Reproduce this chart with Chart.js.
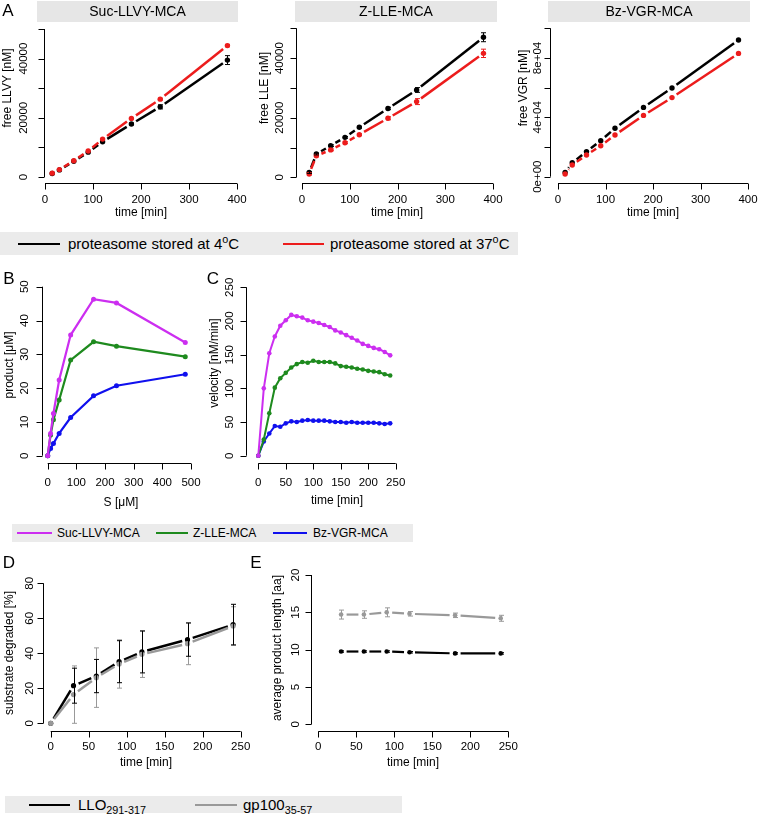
<!DOCTYPE html>
<html>
<head>
<meta charset="utf-8">
<script src="https://cdn.jsdelivr.net/npm/chart.js@4.4.1/dist/chart.umd.min.js"></script>
<style>
  body { margin: 0; background: #fff; font-family: "Liberation Sans", Arial, sans-serif; }
  #fig { position: relative; width: 762px; height: 815px; overflow: hidden; background: #fff; }
  #fig canvas { position: absolute; left: 0; top: 0; }
  .key { position: absolute; background: #ebebeb; color: #000; }
  .key span { position: absolute; top: 0; white-space: nowrap; }
  .key i { position: absolute; height: 2px; }
  .key sup, .key sub { font-size: 0.72em; line-height: 0; }
</style>
</head>
<body>
<div id="fig">
  <canvas id="a1" width="762" height="815"></canvas>
  <canvas id="a2" width="762" height="815"></canvas>
  <canvas id="a3" width="762" height="815"></canvas>
  <canvas id="b" width="762" height="815"></canvas>
  <canvas id="c" width="762" height="815"></canvas>
  <canvas id="d" width="762" height="815"></canvas>
  <canvas id="e" width="762" height="815"></canvas>
</div>
<script>
// ---- data: panel A (free fluorophore over time, two storage temperatures)
const timeA = [15, 30, 60, 90, 120, 180, 240, 380];
const llvy4 = [1200, 2400, 5300, 8400, 11900, 17900, 23700, 39500];
const llvy37 = [1300, 2500, 5500, 8800, 12800, 19800, 26300, 44400];
const llvy4Err = [0, 0, 0, 0, 0, 300, 700, 1500];
const llvy37Err = [0, 0, 0, 0, 0, 0, 300, 400];
const lle4 = [1600, 7800, 10600, 13400, 16800, 23100, 29300, 47000];
const lle37 = [1100, 7200, 9200, 11600, 14300, 19800, 25400, 41600];
const lle4Err = [300, 300, 300, 300, 300, 400, 800, 1500];
const lle37Err = [300, 300, 300, 300, 300, 500, 1000, 1400];
const vgr4 = [2900, 9400, 16900, 24300, 32600, 46700, 59800, 92100];
const vgr37 = [1800, 7900, 14600, 20900, 28100, 41300, 53300, 83100];
const xTicksA = [0, 100, 200, 300, 400];
const yTicksA = [0, 10000, 20000, 30000, 40000, 50000];
const yLabelsA = ['0', '', '20000', '', '40000', ''];
const yTicksVGR = [0, 20000, 40000, 60000, 80000, 100000];
const yLabelsVGR = ['0e+00', '', '4e+04', '', '8e+04', ''];
const substrates = ['Suc-LLVY-MCA', 'Z-LLE-MCA', 'Bz-VGR-MCA'];
const storage = ['proteasome stored at 4<sup>o</sup>C', 'proteasome stored at 37<sup>o</sup>C'];

// ---- data: panel B (product vs substrate conc.)
const substrateConc = [0, 10, 20, 40, 80, 160, 240, 480];
const prodLLVY = [0, 6.6, 12.5, 22.4, 35.7, 46.3, 45.2, 33.5];
const prodLLE = [0, 6.1, 10.6, 16.5, 28.3, 33.7, 32.4, 29.3];
const prodVGR = [0, 2.1, 3.6, 6.6, 11.3, 17.7, 20.7, 24.1];
const xTicksB = [0, 100, 200, 300, 400, 500];
const yTicksB = [0, 10, 20, 30, 40, 50];

// ---- data: panel C (velocity over time)
const timeC = [0, 10, 20, 30, 40, 50, 60, 70, 80, 90, 100, 110, 120, 130, 140, 150, 160, 170, 180, 190, 200, 210, 220, 230, 240];
const velLLVY = [0, 100, 152, 177, 193, 201, 209, 207, 205, 201, 199, 197, 194, 191, 186, 183, 179, 175, 171, 166, 163, 160, 158, 154, 149];
const velLLE = [0, 24, 63, 101, 115, 123, 131, 136, 139, 138, 141, 139, 139, 139, 137, 133, 132, 131, 129, 128, 126, 125, 124, 121, 119];
const velVGR = [0, 21, 33, 44, 43, 48, 51, 50, 52, 53, 52, 52, 52, 51, 50, 50, 49, 50, 49, 49, 49, 49, 48, 47, 48];
const xTicksC = [0, 50, 100, 150, 200, 250];
const yTicksC = [0, 50, 100, 150, 200, 250];

// ---- data: panels D and E (LLO vs gp100)
const timeD = [0, 30, 60, 90, 120, 180, 240];
const degLLO = [0, 21.5, 27, 35.2, 40.8, 47.8, 56.4];
const degLLOErr = [0, 10, 9.5, 12, 12, 9.5, 11.6];
const degGP = [0, 16.4, 26.1, 33.9, 39.4, 45.5, 55.6];
const degGPErr = [0, 16.4, 17, 13.8, 13.2, 12, 11];
const timeE = [30, 60, 90, 120, 180, 240];
const lenLLO = [9.75, 9.75, 9.75, 9.65, 9.5, 9.5];
const lenLLOErr = [0.1, 0.1, 0.1, 0.1, 0.1, 0.1];
const lenGP = [14.7, 14.7, 15.0, 14.8, 14.6, 14.2];
const lenGPErr = [0.6, 0.5, 0.6, 0.3, 0.3, 0.4];
const xTicksD = [0, 50, 100, 150, 200, 250];
const yTicksD = [0, 20, 40, 60, 80];
const yTicksE = [0, 5, 10, 15, 20];
const peptides = ['LLO<sub>291-317</sub>', 'gp100<sub>35-57</sub>'];

const W = 762, H = 815;
const FONT = '"Liberation Sans", Arial, sans-serif';
const BLACK = '#000000', RED = '#ec1c1c', GREY = '#999999';
const MAGENTA = '#cc2ef0', GREEN = '#1e8a1e', BLUE = '#1010ee';

// R-style axes: detached lines spanning first..last tick, rotated y labels
function rAxes(cfg) {
  return {
    id: 'rAxes',
    afterDraw(chart) {
      const ctx = chart.ctx, xs = chart.scales.x, ys = chart.scales.y, a = chart.chartArea;
      const tl = 6;
      ctx.save();
      ctx.strokeStyle = '#000';
      ctx.fillStyle = '#000';
      ctx.lineWidth = 1;

      // strip header
      if (cfg.strip) {
        const s = cfg.strip;
        ctx.fillStyle = '#e6e6e6';
        ctx.fillRect(s.x0, s.y0, s.x1 - s.x0, s.y1 - s.y0);
        ctx.fillStyle = '#000';
        ctx.font = '14px ' + FONT;
        ctx.textAlign = 'center';
        ctx.textBaseline = 'middle';
        ctx.fillText(s.text, (s.x0 + s.x1) / 2, (s.y0 + s.y1) / 2 + 1);
      }

      // x axis
      const yb = Math.round(a.bottom) + 0.5;
      ctx.beginPath();
      ctx.moveTo(xs.getPixelForValue(cfg.xTicks[0]), yb);
      ctx.lineTo(xs.getPixelForValue(cfg.xTicks[cfg.xTicks.length - 1]), yb);
      cfg.xTicks.forEach(v => {
        const px = Math.round(xs.getPixelForValue(v)) + 0.5;
        ctx.moveTo(px, yb);
        ctx.lineTo(px, yb + tl);
      });
      // y axis
      const xl = Math.round(a.left) + 0.5;
      ctx.moveTo(xl, ys.getPixelForValue(cfg.yTicks[0]));
      ctx.lineTo(xl, ys.getPixelForValue(cfg.yTicks[cfg.yTicks.length - 1]));
      cfg.yTicks.forEach(v => {
        const py = Math.round(ys.getPixelForValue(v)) + 0.5;
        ctx.moveTo(xl, py);
        ctx.lineTo(xl - tl, py);
      });
      ctx.stroke();

      ctx.font = '11.5px ' + FONT;
      ctx.textAlign = 'center';
      ctx.textBaseline = 'middle';
      const xLabels = cfg.xLabels || cfg.xTicks.map(String);
      cfg.xTicks.forEach((v, i) => ctx.fillText(xLabels[i], xs.getPixelForValue(v), cfg.xLabelY));
      const yLabels = cfg.yLabels || cfg.yTicks.map(String);
      cfg.yTicks.forEach((v, i) => {
        if (!yLabels[i]) return;
        ctx.save();
        ctx.translate(cfg.yLabelX, ys.getPixelForValue(v));
        ctx.rotate(-Math.PI / 2);
        ctx.fillText(yLabels[i], 0, 0);
        ctx.restore();
      });

      // axis titles
      ctx.font = '12px ' + FONT;
      ctx.fillText(cfg.xTitle[0], cfg.xTitle[1], cfg.xTitle[2]);
      ctx.save();
      ctx.translate(cfg.yTitle[1], cfg.yTitle[2]);
      ctx.rotate(-Math.PI / 2);
      ctx.fillText(cfg.yTitle[0], 0, 0);
      ctx.restore();

      // panel letter
      if (cfg.letter) {
        ctx.font = '17px ' + FONT;
        ctx.fillText(cfg.letter[0], cfg.letter[1], cfg.letter[2]);
      }
      ctx.restore();
    }
  };
}

// vertical error bars with small caps
const errBars = {
  id: 'errBars',
  afterDatasetsDraw(chart) {
    const ctx = chart.ctx, xs = chart.scales.x, ys = chart.scales.y;
    chart.data.datasets.forEach(ds => {
      if (!ds.errors) return;
      ctx.save();
      ctx.strokeStyle = ds.borderColor;
      ctx.lineWidth = 1;
      ds.data.forEach((p, j) => {
        const e = ds.errors[j];
        if (!e) return;
        const px = Math.round(xs.getPixelForValue(p.x)) + 0.5;
        const top = ys.getPixelForValue(p.y + e), bot = ys.getPixelForValue(p.y - e);
        ctx.beginPath();
        ctx.moveTo(px, top); ctx.lineTo(px, bot);
        ctx.moveTo(px - 2.5, top); ctx.lineTo(px + 2.5, top);
        ctx.moveTo(px - 2.5, bot); ctx.lineTo(px + 2.5, bot);
        ctx.stroke();
      });
      ctx.restore();
    });
  }
};

// R type="b": each segment stops short of the points at both ends
function gapped(g) {
  const dashLen = c => Math.max(Math.hypot(c.p1.x - c.p0.x, c.p1.y - c.p0.y) - 2 * g, 0) + c.p0DataIndex * 1e-4;
  return {
    borderDash: c => [dashLen(c), 1e5],
    borderDashOffset: c => dashLen(c) + 1e5 - g
  };
}

function series(xv, yv, color, extra) {
  return Object.assign({
    data: xv.map((x, i) => ({ x: x, y: yv[i] })),
    borderColor: color,
    backgroundColor: color,
    pointBackgroundColor: color,
    pointBorderWidth: 0,
    pointRadius: 2.5,
    borderWidth: 2,
    tension: 0,
    clip: false
  }, extra || {});
}

// plot region + scale limits from pixel anchors of the first/last tick
function frame(g) {
  const bx = (g.xp[1] - g.xp[0]) / (g.xv[1] - g.xv[0]);
  const by = (g.yp[1] - g.yp[0]) / (g.yv[1] - g.yv[0]);
  return {
    x: { min: g.xv[0] + (g.left - g.xp[0]) / bx, max: g.xv[0] + (g.right - g.xp[0]) / bx },
    y: { min: g.yv[0] + (g.bottom - g.yp[0]) / by, max: g.yv[0] + (g.top - g.yp[0]) / by },
    padding: { left: g.left, right: W - g.right, top: g.top, bottom: H - g.bottom }
  };
}

function makePanel(id, g, datasets, ax) {
  const f = frame(g);
  return new Chart(document.getElementById(id), {
    type: 'line',
    data: { datasets: datasets },
    options: {
      responsive: false,
      animation: false,
      events: [],
      layout: { padding: f.padding },
      scales: {
        x: { type: 'linear', display: false, bounds: 'data', min: f.x.min, max: f.x.max },
        y: { type: 'linear', display: false, bounds: 'data', min: f.y.min, max: f.y.max }
      },
      plugins: { legend: { display: false }, tooltip: { enabled: false } }
    },
    plugins: [rAxes(ax), errBars]
  });
}

function legend(box, names, colors, items) {
  const el = document.createElement('div');
  el.className = 'key';
  Object.assign(el.style, {
    left: box.left + 'px', top: box.top + 'px', width: box.width + 'px', height: box.height + 'px',
    fontSize: box.font + 'px', lineHeight: box.height + 'px'
  });
  names.forEach((n, i) => {
    const it = items[i];
    const ln = document.createElement('i');
    Object.assign(ln.style, {
      left: (it[0] - box.left) + 'px', width: (it[1] - it[0]) + 'px',
      top: (box.height / 2 - 1) + 'px', background: colors[i]
    });
    const tx = document.createElement('span');
    tx.innerHTML = n;
    tx.style.left = (it[2] - box.left) + 'px';
    el.appendChild(ln);
    el.appendChild(tx);
  });
  document.getElementById('fig').insertBefore(el, document.getElementById('a1'));
}

// ---- panel A
const gapA = { segment: gapped(5.5), borderWidth: 2.5, pointRadius: 2.7 };
const geoA = [
  { left: 44, right: 246, top: 24, bottom: 183, xv: [0, 400], xp: [45, 237], yv: [0, 50000], yp: [177, 29] },
  { left: 296, right: 500, top: 24, bottom: 183, xv: [0, 400], xp: [302, 493], yv: [0, 50000], yp: [177.3, 28.3] },
  { left: 550, right: 756, top: 24, bottom: 183, xv: [0, 400], xp: [558, 748], yv: [0, 100000], yp: [176.7, 28.3] }
];
makePanel('a1', geoA[0], [
  series(timeA, llvy37, RED, Object.assign({ errors: llvy37Err }, gapA)),
  series(timeA, llvy4, BLACK, Object.assign({ errors: llvy4Err }, gapA))
], {
  xTicks: xTicksA, yTicks: yTicksA, yLabels: yLabelsA, xLabelY: 200, yLabelX: 24,
  xTitle: ['time [min]', 141, 213], yTitle: ['free LLVY [nM]', 8, 88],
  strip: { text: substrates[0], x0: 37, x1: 238, y0: 1, y1: 22 }, letter: ['A', 8, 11]
});
makePanel('a2', geoA[1], [
  series(timeA, lle37, RED, Object.assign({ errors: lle37Err }, gapA)),
  series(timeA, lle4, BLACK, Object.assign({ errors: lle4Err }, gapA))
], {
  xTicks: xTicksA, yTicks: yTicksA, yLabels: yLabelsA, xLabelY: 200, yLabelX: 280,
  xTitle: ['time [min]', 397, 213], yTitle: ['free LLE [nM]', 265, 88],
  strip: { text: substrates[1], x0: 295, x1: 497, y0: 1, y1: 22 }
});
makePanel('a3', geoA[2], [
  series(timeA, vgr37, RED, gapA),
  series(timeA, vgr4, BLACK, gapA)
], {
  xTicks: xTicksA, yTicks: yTicksVGR, yLabels: yLabelsVGR, xLabelY: 200, yLabelX: 538,
  xTitle: ['time [min]', 653, 213], yTitle: ['free VGR [nM]', 524, 88],
  strip: { text: substrates[2], x0: 548, x1: 750, y0: 1, y1: 22 }
});

// ---- panel B
makePanel('b', { left: 42, right: 200, top: 275, bottom: 463, xv: [0, 500], xp: [47.7, 191], yv: [0, 50], yp: [455.7, 286.7] }, [
  series(substrateConc, prodLLVY, MAGENTA, { borderWidth: 2.2 }),
  series(substrateConc, prodLLE, GREEN, { borderWidth: 2.2 }),
  series(substrateConc, prodVGR, BLUE, { borderWidth: 2.2 })
], {
  xTicks: xTicksB, yTicks: yTicksB, xLabelY: 483, yLabelX: 25,
  xTitle: ['S [\u03bcM]', 121, 503], yTitle: ['product [\u03bcM]', 10, 365], letter: ['B', 9, 279]
});

// ---- panel C
makePanel('c', { left: 246, right: 405, top: 275, bottom: 463, xv: [0, 250], xp: [258.3, 395.7], yv: [0, 250], yp: [455.7, 287.3] }, [
  series(timeC, velLLVY, MAGENTA, { pointRadius: 2.3 }),
  series(timeC, velLLE, GREEN, { pointRadius: 2.3 }),
  series(timeC, velVGR, BLUE, { pointRadius: 2.3 })
], {
  xTicks: xTicksC, yTicks: yTicksC, xLabelY: 483, yLabelX: 230,
  xTitle: ['time [min]', 337, 501], yTitle: ['velocity [nM/min]', 215, 363], letter: ['C', 213, 279]
});

// ---- panel D
const gapD = { segment: gapped(5.5), borderWidth: 2.5, pointRadius: 2.6 };
makePanel('d', { left: 43, right: 250, top: 570, bottom: 731, xv: [0, 250], xp: [50.7, 240.7], yv: [0, 80], yp: [723.3, 583.3] }, [
  series(timeD, degGP, GREY, Object.assign({ errors: degGPErr }, gapD)),
  series(timeD, degLLO, BLACK, Object.assign({ errors: degLLOErr }, gapD))
], {
  xTicks: xTicksD, yTicks: yTicksD, xLabelY: 747, yLabelX: 30,
  xTitle: ['time [min]', 146, 763], yTitle: ['substrate degraded [%]', 10, 653], letter: ['D', 9, 563]
});

// ---- panel E
const gapE = { segment: gapped(5.5), borderWidth: 2.2, pointRadius: 2.3 };
makePanel('e', { left: 311, right: 515, top: 570, bottom: 731, xv: [0, 250], xp: [318.3, 508.3], yv: [0, 20], yp: [724.3, 575] }, [
  series(timeE, lenGP, GREY, Object.assign({ errors: lenGPErr }, gapE)),
  series(timeE, lenLLO, BLACK, Object.assign({ errors: lenLLOErr }, gapE))
], {
  xTicks: xTicksD, yTicks: yTicksE, xLabelY: 747, yLabelX: 296,
  xTitle: ['time [min]', 413, 763], yTitle: ['average product length [aa]', 278, 648], letter: ['E', 256, 563]
});

// ---- legends
legend({ left: 0, top: 232, width: 518, height: 23, font: 15 }, storage, [BLACK, RED],
  [[18, 60, 68], [283, 324, 330]]);
legend({ left: 12, top: 524, width: 401, height: 18, font: 12 }, substrates, [MAGENTA, GREEN, BLUE],
  [[17, 52, 57], [156, 188, 193], [273, 307, 313]]);
legend({ left: 5, top: 796, width: 397, height: 17, font: 15 }, peptides, [BLACK, GREY],
  [[29, 70, 78], [195, 237, 243]]);
</script>
</body>
</html>
